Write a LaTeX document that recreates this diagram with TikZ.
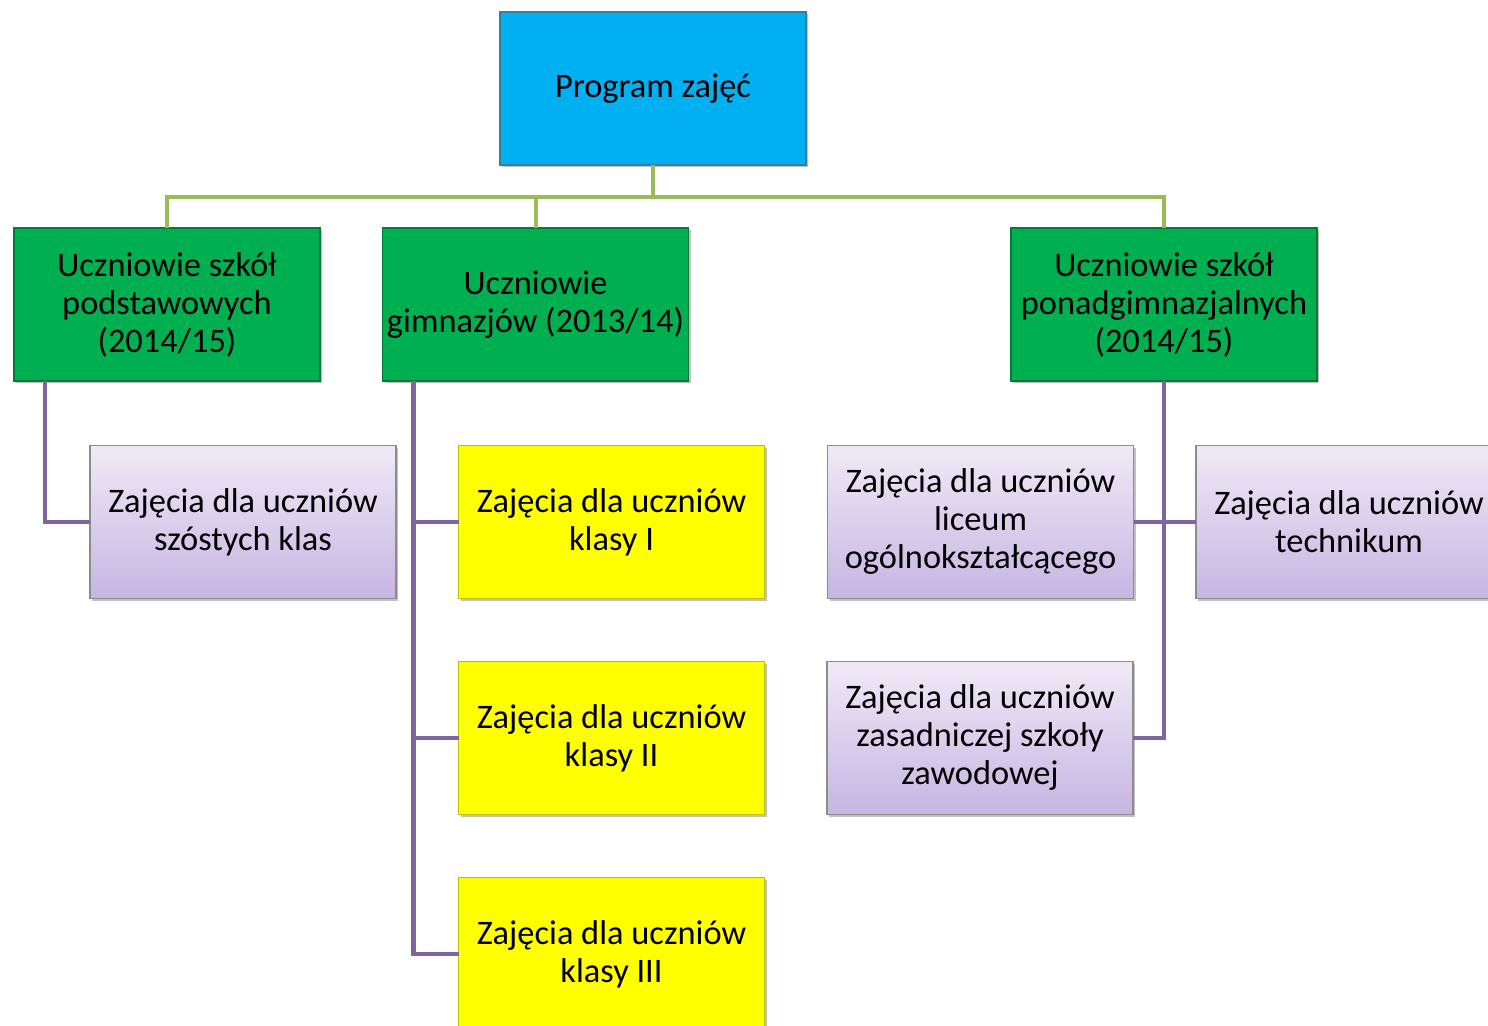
\documentclass[tikz,border=0pt]{standalone}
\usepackage{fontspec}
\setmainfont{Carlito}
\usetikzlibrary{calc,shadows}
\definecolor{topcyan}{HTML}{00B0F0}
\definecolor{grn}{HTML}{00B050}
\definecolor{conngreen}{HTML}{9BBB59}
\definecolor{connpurple}{HTML}{8064A2}
\definecolor{lavtop}{HTML}{EFEAF7}
\definecolor{lavbot}{HTML}{C6B5E2}
\definecolor{ylw}{HTML}{FFFF00}
\tikzset{
  boxbase/.style={rectangle, minimum width=153pt, minimum height=76.5pt, inner sep=0pt, outer sep=0pt,
    align=center, font=\fontsize{17.2pt}{19pt}\selectfont, line width=0.6pt,
    drop shadow={shadow xshift=1.2pt, shadow yshift=-1.2pt, opacity=0.35, fill=black!70}},
  topbox/.style={boxbase, fill=topcyan, draw=topcyan!55!black!80},
  grnbox/.style={boxbase, fill=grn, draw=grn!70!black},
  lavbox/.style={boxbase, top color=lavtop, bottom color=lavbot, draw=black!45},
  ylwbox/.style={boxbase, fill=ylw, draw=ylw!75!black},
  gconn/.style={draw=conngreen, line width=2pt},
  pconn/.style={draw=connpurple, line width=2.2pt},
}
\begin{document}
\begin{tikzpicture}[x=0.5pt,y=-0.5pt]
\useasboundingbox (0,0) rectangle (1488,1026);
\clip (0,0) rectangle (1488,1026);
\coordinate (gbus) at (653,197);
\node[topbox] (top) at (653,88.5) {Program zajęć};
\node[grnbox] (g1) at (167,304.5) {Uczniowie szkół\\podstawowych\\(2014/15)};
\node[grnbox] (g2) at (535.5,304.5) {Uczniowie\\gimnazjów (2013/14)};
\node[grnbox] (g3) at (1164,304.5) {Uczniowie szkół\\ponadgimnazjalnych\\(2014/15)};
\node[lavbox] (l1) at (243,522) {Zajęcia dla uczniów\\szóstych klas};
\node[ylwbox] (y1) at (611.5,522) {Zajęcia dla uczniów\\klasy I};
\node[ylwbox] (y2) at (611.5,738) {Zajęcia dla uczniów\\klasy II};
\node[ylwbox] (y3) at (611.5,954) {Zajęcia dla uczniów\\klasy III};
\node[lavbox] (lic) at (980.5,522) {Zajęcia dla uczniów\\liceum\\ogólnokształcącego};
\node[lavbox] (zas) at (980,738) {Zajęcia dla uczniów\\zasadniczej szkoły\\zawodowej};
\node[lavbox] (tech) at (1349,522) {Zajęcia dla uczniów\\technikum};
% green connectors
\draw[gconn] (top.south) -- (gbus);
\draw[gconn] (g1.north) |- (gbus) -| (g3.north);
\draw[gconn] (g2.north) -- (g2.north |- gbus);
% purple connectors
\coordinate (t1) at ($(g1.south west)+(31,0)$);
\coordinate (t2) at ($(g2.south west)+(31,0)$);
\draw[pconn] (t1) |- (l1.west);
\draw[pconn] (t2) |- (y3.west);
\draw[pconn] (y1.west) -- (y1.west -| t2);
\draw[pconn] (y2.west) -- (y2.west -| t2);
\draw[pconn] (g3.south) |- (zas.east);
\draw[pconn] (lic.east) -- (tech.west);
\end{tikzpicture}
\end{document}
